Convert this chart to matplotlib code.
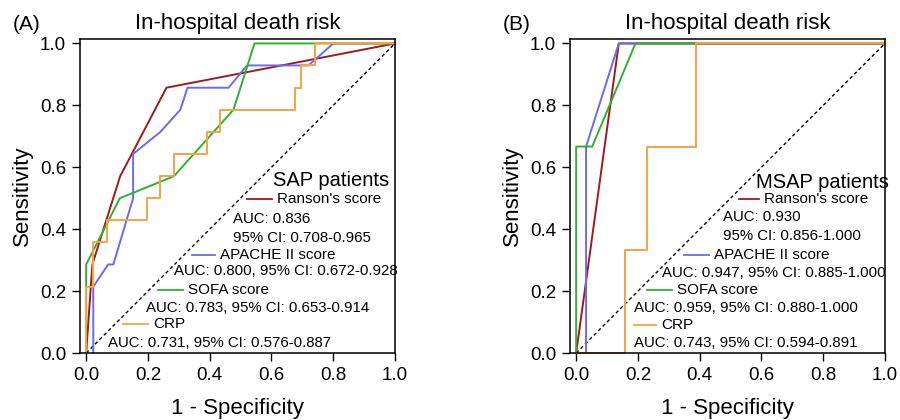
import matplotlib
matplotlib.use("Agg")
import matplotlib.pyplot as plt

plt.rcParams['font.family'] = ['Liberation Sans', 'DejaVu Sans']

# ROC points (1 - specificity, sensitivity)
# panel A: SAP patients
sap_ranson_x = [0, 0.02, 0.11, 0.26, 1.0]
sap_ranson_y = [0, 0.286, 0.571, 0.857, 1.0]
sap_apache_x = [0.023, 0.023, 0.071, 0.088, 0.152, 0.152, 0.24, 0.305, 0.328, 0.461, 0.521, 0.72, 0.80, 1.0]
sap_apache_y = [0, 0.214, 0.286, 0.286, 0.50, 0.643, 0.714, 0.786, 0.857, 0.857, 0.929, 0.929, 1.0, 1.0]
sap_sofa_x = [0, 0, 0.109, 0.284, 0.477, 0.545, 1.0]
sap_sofa_y = [0, 0.286, 0.50, 0.571, 0.786, 1.0, 1.0]
sap_crp_x = [0, 0, 0.023, 0.023, 0.066, 0.066, 0.196, 0.196, 0.239, 0.239, 0.284, 0.284,
             0.391, 0.391, 0.434, 0.434, 0.677, 0.677, 0.696, 0.696, 0.74, 0.74, 1.0]
sap_crp_y = [0, 0.214, 0.214, 0.357, 0.357, 0.429, 0.429, 0.50, 0.50, 0.571, 0.571, 0.643,
             0.643, 0.714, 0.714, 0.786, 0.786, 0.857, 0.857, 0.929, 0.929, 1.0, 1.0]

# panel B: MSAP patients
msap_ranson_x = [0, 0.138, 1.0]
msap_ranson_y = [0, 1.0, 1.0]
msap_apache_x = [0.032, 0.032, 0.138, 1.0]
msap_apache_y = [0, 0.667, 1.0, 1.0]
msap_sofa_x = [0, 0, 0.052, 0.192, 1.0]
msap_sofa_y = [0, 0.667, 0.667, 1.0, 1.0]
msap_crp_x = [0, 0.158, 0.158, 0.229, 0.229, 0.389, 0.389, 1.0]
msap_crp_y = [0, 0, 0.333, 0.333, 0.667, 0.667, 1.0, 1.0]

score_names = ["Ranson's score", "APACHE II score", "SOFA score", "CRP"]
sap_stats = [["AUC: 0.836", "95% CI: 0.708-0.965"],
             ["AUC: 0.800, 95% CI: 0.672-0.928"],
             ["AUC: 0.783, 95% CI: 0.653-0.914"],
             ["AUC: 0.731, 95% CI: 0.576-0.887"]]
msap_stats = [["AUC: 0.930", "95% CI: 0.856-1.000"],
              ["AUC: 0.947, 95% CI: 0.885-1.000"],
              ["AUC: 0.959, 95% CI: 0.880-1.000"],
              ["AUC: 0.743, 95% CI: 0.594-0.891"]]
ticks = [0.0, 0.2, 0.4, 0.6, 0.8, 1.0]

colors = ['#9e1b1b', '#6b6bef', '#2fb02f', '#f5a445']


def draw_panel(ax, curves, group, stats, layout, tag):
    ax.plot([0, 1], [0, 1], color='black', ls=(0, (2.5, 2)), lw=1)
    for (x, y), c in zip(curves, colors):
        ax.plot(x, y, color=c, lw=1.4, clip_on=False)
    ax.set_xlim(-0.02, 1.0)
    ax.set_ylim(0, 1.016)
    ax.set_xticks(ticks)
    ax.set_yticks(ticks)
    ax.set_xticklabels(['%.1f' % t for t in ticks])
    ax.set_yticklabels(['%.1f' % t for t in ticks])
    ax.tick_params(direction='out', length=6, width=1, labelsize=13.5, pad=4)
    for s in ax.spines.values():
        s.set_linewidth(1.1)
    ax.set_xlabel('1 - Specificity', fontsize=16, labelpad=10)
    ax.set_ylabel('Sensitivity', fontsize=16, labelpad=5)
    ax.set_title('In-hospital death risk', fontsize=16, pad=7)

    gx, gy, entries = layout
    ax.text(gx, gy, group, fontsize=14.5, va='center', ha='left')
    for i, (lx0, lx1, ly, sx, sy) in enumerate(entries):
        ax.plot([lx0, lx1], [ly, ly], color=colors[i], lw=1.3)
        ax.text(lx1 + 0.015, ly, score_names[i], fontsize=11, va='center', ha='left')
        for j, line in enumerate(stats[i]):
            ax.text(sx, sy - j * 0.061, line, fontsize=10.8, va='center', ha='left')
    ax.text(-0.213, 1.046, tag, fontsize=15, transform=ax.transAxes, va='center', ha='left')


fig = plt.figure(figsize=(9, 4.2), dpi=100)
axA = fig.add_axes([80 / 900, 67 / 420, 315 / 900, 314.5 / 420])
axB = fig.add_axes([570 / 900, 67 / 420, 315 / 900, 314.5 / 420])

layoutA = (0.605, 0.558, [
    (0.522, 0.603, 0.499, 0.475, 0.434),
    (0.344, 0.418, 0.318, 0.283, 0.264),
    (0.233, 0.314, 0.204, 0.194, 0.146),
    (0.120, 0.201, 0.094, 0.072, 0.032)])
layoutB = (0.583, 0.550, [
    (0.528, 0.593, 0.498, 0.476, 0.438),
    (0.350, 0.431, 0.318, 0.279, 0.260),
    (0.230, 0.311, 0.202, 0.188, 0.146),
    (0.188, 0.259, 0.091, 0.188, 0.032)])

draw_panel(axA, [(sap_ranson_x, sap_ranson_y), (sap_apache_x, sap_apache_y),
                 (sap_sofa_x, sap_sofa_y), (sap_crp_x, sap_crp_y)],
           'SAP patients', sap_stats, layoutA, '(A)')
draw_panel(axB, [(msap_ranson_x, msap_ranson_y), (msap_apache_x, msap_apache_y),
                 (msap_sofa_x, msap_sofa_y), (msap_crp_x, msap_crp_y)],
           'MSAP patients', msap_stats, layoutB, '(B)')

fig.savefig('out.png', dpi=100)
